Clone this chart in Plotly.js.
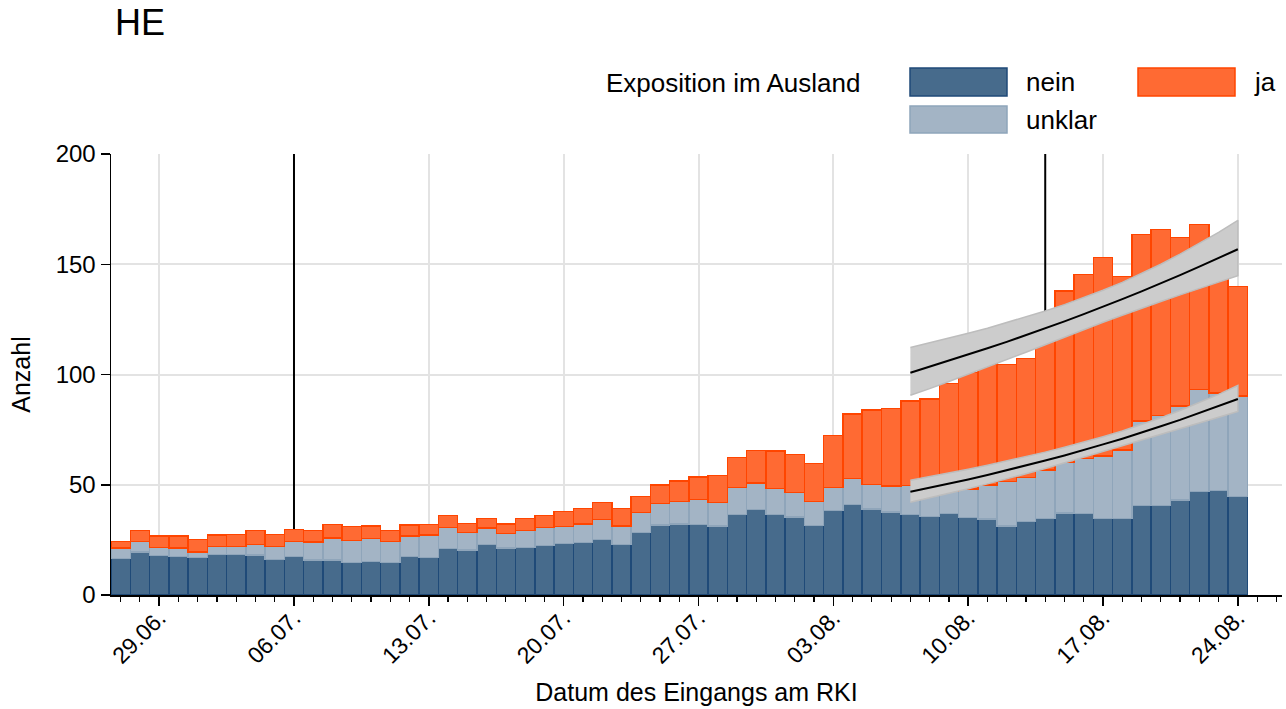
<!DOCTYPE html>
<html>
<head>
<meta charset="utf-8">
<script src="https://cdn.plot.ly/plotly-3.0.1.min.js"></script>
<style>html,body{margin:0;padding:0;background:#fff;}#chart{width:1286px;height:709px;}</style>
</head>
<body>
<div id="chart"></div>
<script>
// ---- data ----
const dates = [
 '2020-06-27','2020-06-28','2020-06-29','2020-06-30',
 '2020-07-01','2020-07-02','2020-07-03','2020-07-04','2020-07-05','2020-07-06','2020-07-07','2020-07-08','2020-07-09','2020-07-10',
 '2020-07-11','2020-07-12','2020-07-13','2020-07-14','2020-07-15','2020-07-16','2020-07-17','2020-07-18','2020-07-19','2020-07-20',
 '2020-07-21','2020-07-22','2020-07-23','2020-07-24','2020-07-25','2020-07-26','2020-07-27','2020-07-28','2020-07-29','2020-07-30','2020-07-31',
 '2020-08-01','2020-08-02','2020-08-03','2020-08-04','2020-08-05','2020-08-06','2020-08-07','2020-08-08','2020-08-09','2020-08-10',
 '2020-08-11','2020-08-12','2020-08-13','2020-08-14','2020-08-15','2020-08-16','2020-08-17','2020-08-18','2020-08-19','2020-08-20',
 '2020-08-21','2020-08-22','2020-08-23','2020-08-24'];

const nein = [16.5,19.5,18.0,17.4,16.9,18.3,18.3,18.1,16.0,17.4,15.9,15.9,14.7,15.1,14.7,17.4,16.9,21.0,20.4,22.8,
 21.3,21.5,22.4,23.3,23.9,25.1,22.8,28.3,31.7,32.3,32.0,31.4,36.4,38.7,36.4,35.4,31.6,38.4,41.0,39.1,
 37.6,36.4,35.5,37.0,35.1,34.5,31.4,33.3,34.6,37.3,36.9,34.6,34.6,40.5,40.5,43.1,46.9,47.3,44.6];
const unklar = [4.8,4.8,3.6,3.9,2.7,3.8,3.8,4.9,6.1,6.9,8.1,9.9,10.1,10.6,9.6,9.4,10.3,9.7,8.0,7.6,
 6.7,7.8,8.3,7.8,8.4,9.2,8.6,9.2,9.9,10.0,11.4,10.6,12.4,12.0,12.0,11.0,10.7,10.4,11.9,11.1,
 11.8,13.2,12.5,10.0,12.9,15.5,20.0,20.1,22.1,22.7,25.1,28.4,31.2,38.4,41.0,42.6,46.4,44.2,45.6];
const ja = [3.0,4.9,5.2,5.5,5.6,5.1,5.3,6.2,5.4,5.5,5.2,6.1,6.2,5.7,4.9,4.9,4.8,5.3,4.1,4.4,
 4.3,5.5,5.3,6.7,6.9,7.6,7.8,7.1,8.3,9.3,10.1,12.3,13.6,14.9,17.0,17.4,17.4,23.6,29.2,33.6,
 35.1,38.4,41.0,49.0,53.0,54.8,53.2,53.9,62.3,77.9,83.4,90.0,78.7,84.7,84.3,76.4,74.8,52.5,49.6];

// trend (fit) for all cases and for nein+unklar, with confidence band
const fitDates = ['2020-08-07','2020-08-08','2020-08-09','2020-08-10','2020-08-11','2020-08-12','2020-08-13','2020-08-14','2020-08-15',
 '2020-08-16','2020-08-17','2020-08-18','2020-08-19','2020-08-20','2020-08-21','2020-08-22','2020-08-23','2020-08-24'];
const fitAll    = [100.8,103.5,106.2,109.0,111.9,114.8,117.8,120.9,124.1,127.4,130.7,134.2,137.7,141.3,145.1,148.9,152.8,156.8];
const fitAllHi  = [112.2,114.3,116.5,118.7,121.0,123.5,126.0,128.8,131.7,134.8,138.2,141.8,145.8,150.0,154.6,159.4,164.5,169.9];
const fitAllLo  = [90.6,93.6,96.8,100.1,103.4,106.7,110.1,113.5,117.0,120.4,123.7,126.9,130.1,133.1,136.1,139.1,141.9,144.8];
const fitInl    = [46.8,48.6,50.5,52.4,54.4,56.5,58.7,61.0,63.3,65.7,68.3,70.9,73.6,76.5,79.4,82.5,85.6,88.9];
const fitInlHi  = [52.0,53.6,55.3,57.0,58.8,60.7,62.7,64.8,67.0,69.3,71.8,74.4,77.3,80.4,83.7,87.2,91.0,95.0];
const fitInlLo  = [42.1,44.1,46.1,48.2,50.4,52.6,55.0,57.4,59.8,62.4,65.0,67.5,70.1,72.7,75.3,78.0,80.6,83.2];

const tickDates  = ['2020-06-29','2020-07-06','2020-07-13','2020-07-20','2020-07-27','2020-08-03','2020-08-10','2020-08-17','2020-08-24'];
const tickLabels = ['29.06.','06.07.','13.07.','20.07.','27.07.','03.08.','10.08.','17.08.','24.08.'];
const markerDates = ['2020-07-06','2020-08-14'];
const yTicks = [0,50,100,150,200];

const legendTitle = 'Exposition im Ausland';

// ---- styles ----
const FONT = 'Liberation Sans, Arial, sans-serif';
const C = {
  nein:   {fill:'#476b8c', line:'#1f4a78'},
  unklar: {fill:'#a3b4c5', line:'#8fa5ba'},
  ja:     {fill:'#ff6a33', line:'#ff4500'}
};
function bar(name, y) {
  return {type:'bar', name:name, x:dates, y:y, showlegend:false,
    marker:{color:C[name].fill, line:{color:C[name].line, width:1.5}},
    hoverinfo:'x+y+name'};
}
function band(hi, lo) {
  return {type:'scatter', mode:'lines', x:fitDates.concat(fitDates.slice().reverse()),
    y:hi.concat(lo.slice().reverse()), fill:'toself', fillcolor:'#cccccc',
    line:{color:'#bdbdbd', width:1.5}, showlegend:false, hoverinfo:'skip'};
}
function fitLine(y) {
  return {type:'scatter', mode:'lines', x:fitDates, y:y, line:{color:'#000', width:2},
    showlegend:false, hoverinfo:'skip'};
}

const traces = [
  bar('nein', nein), bar('unklar', unklar), bar('ja', ja),
  band(fitAllHi, fitAllLo), fitLine(fitAll),
  band(fitInlHi, fitInlLo), fitLine(fitInl)
];

// custom legend (paper coords relative to plot area)
const L = 111, R = 1282, T = 154, B = 595;
const px = x => (x - L) / (R - L);
const py = y => (B - y) / (B - T);
const legendItems = [
  {name:'nein',   x0:910,  y0:68,  y1:96},
  {name:'unklar', x0:910,  y0:106, y1:133},
  {name:'ja',     x0:1138, y0:68,  y1:96}
];
const shapes = markerDates.map(d => ({type:'line', xref:'x', yref:'y', x0:d, x1:d, y0:0, y1:200,
  line:{color:'#000', width:2}, layer:'between'}));
const annotations = [{xref:'paper', yref:'paper', x:px(862), y:py(83), xanchor:'right', yanchor:'middle',
  text:legendTitle, showarrow:false, font:{family:FONT, size:26, color:'#000'}}];
legendItems.forEach(it => {
  shapes.push({type:'rect', xref:'paper', yref:'paper', x0:px(it.x0), x1:px(it.x0+97), y0:py(it.y1), y1:py(it.y0),
    fillcolor:C[it.name].fill, line:{color:C[it.name].line, width:1.5}});
  annotations.push({xref:'paper', yref:'paper', x:px(it.x0+114), y:py((it.y0+it.y1)/2), xanchor:'left', yanchor:'middle',
    text:it.name, showarrow:false, font:{family:FONT, size:26, color:'#000'}});
});

const layout = {
  width:1286, height:709,
  margin:{l:L, r:1286-R, t:T, b:709-B, pad:0},
  paper_bgcolor:'#fff', plot_bgcolor:'#fff',
  barmode:'stack', bargap:0,
  font:{family:FONT, color:'#000'},
  title:{text:'HE', xref:'container', yref:'container', x:115/1286, xanchor:'left', y:1-22/709, yanchor:'middle',
    font:{family:FONT, size:36, color:'#000'}},
  xaxis:{type:'date', range:['2020-06-26 12:00','2020-08-26 07:00'],
    tickmode:'array', tickvals:tickDates, ticktext:tickLabels, tickangle:-45,
    tickfont:{family:FONT, size:23, color:'#000'}, ticklabelstandoff:-10,
    ticks:'outside', ticklen:9, tickwidth:1.5, tickcolor:'#000',
    minor:{dtick:86400000, tick0:'2020-06-27', ticks:'outside', ticklen:5, tickwidth:1.2, tickcolor:'#000', showgrid:false},
    showgrid:true, gridcolor:'#e3e3e3', gridwidth:2,
    showline:true, linecolor:'#000', linewidth:1.5, zeroline:false,
    title:{text:'Datum des Eingangs am RKI', font:{family:FONT, size:25, color:'#000'}, standoff:16}},
  yaxis:{range:[0,200], tickmode:'array', tickvals:yTicks,
    tickfont:{family:FONT, size:24, color:'#000'},
    ticks:'outside', ticklen:9, tickwidth:1.5, tickcolor:'#000',
    showgrid:true, gridcolor:'#e3e3e3', gridwidth:2,
    showline:true, linecolor:'#000', linewidth:1.5, zeroline:false,
    title:{text:'Anzahl', font:{family:FONT, size:25, color:'#000'}, standoff:18}},
  shapes:shapes, annotations:annotations, showlegend:false
};

Plotly.newPlot('chart', traces, layout, {displayModeBar:false, staticPlot:true});
</script>
</body>
</html>
